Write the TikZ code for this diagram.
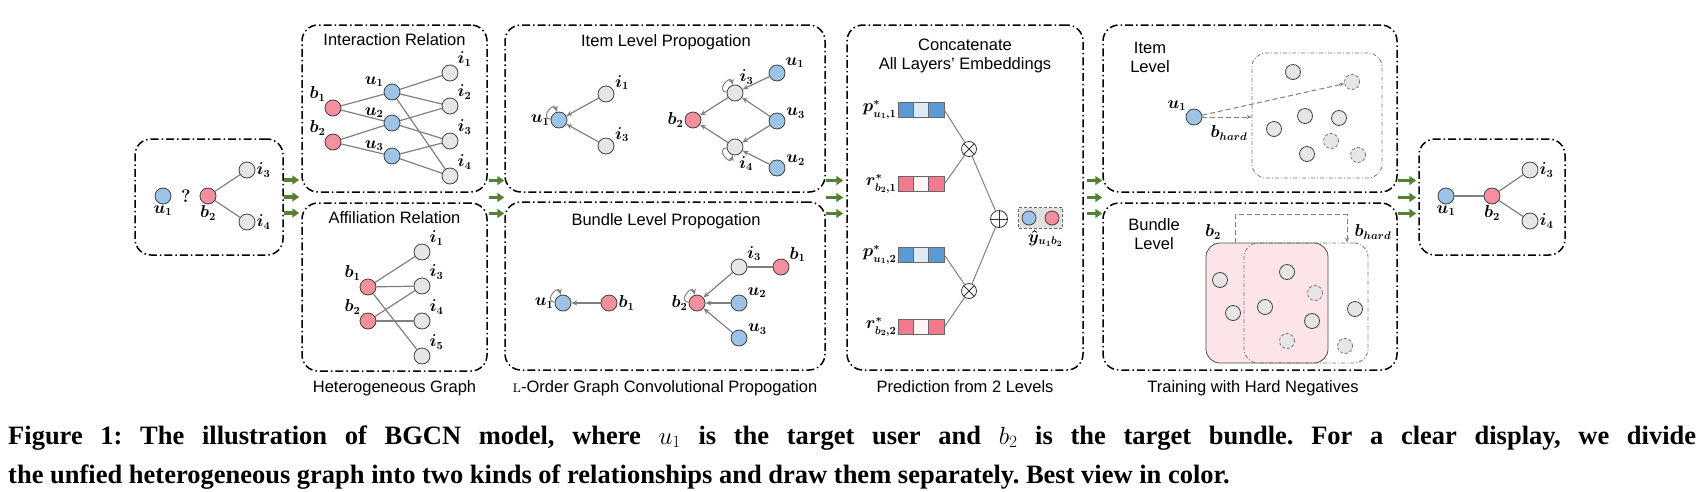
\documentclass[tikz,border=0pt]{standalone}
\usepackage{amsmath}
\usepackage{amssymb}
\usepackage{xcolor}
\usepackage{fontspec}
\setsansfont{Liberation Sans}
\newfontfamily\capfont{Liberation Serif}
\usepackage{tikz}
\usetikzlibrary{positioning,calc,fit,arrows.meta,backgrounds}
\definecolor{UserBlue}{RGB}{157,195,230}
\definecolor{BundlePink}{RGB}{244,143,158}
\definecolor{ItemGray}{RGB}{230,230,230}
\definecolor{EdgeGray}{RGB}{128,128,128}
\definecolor{FlowGreen}{RGB}{84,130,53}
\definecolor{VecBlue}{RGB}{91,155,213}
\definecolor{VecBlueL}{RGB}{222,235,247}
\definecolor{VecPink}{RGB}{242,122,140}
\definecolor{VecPinkL}{RGB}{253,245,246}
\definecolor{SetPink}{RGB}{252,228,232}
\frenchspacing

\begin{document}
\begin{tikzpicture}[
		x=1pt, y=-1pt,
		frame/.style={draw, line width=1.5pt, dash pattern=on 8pt off 3pt on 1.5pt off 3pt, rounded corners=16pt, inner sep=0pt},
		subframe/.style={draw=black!55, line width=0.8pt, dash pattern=on 4pt off 2pt on 1pt off 2pt, rounded corners=14pt, inner sep=0pt},
		title/.style={font=\sffamily\fontsize{16.5}{19}\selectfont, align=center, inner sep=0pt},
		lbl/.style={font=\boldmath\fontsize{16}{16}\selectfont, inner sep=1pt},
		capline/.style={font=\capfont\bfseries\fontsize{26.5}{31}\selectfont, inner sep=0pt},
		vertex/.style={circle, draw=black!75, line width=0.8pt, minimum size=16pt, inner sep=0pt},
		user/.style={vertex, fill=UserBlue},
		bundle/.style={vertex, fill=BundlePink},
		item/.style={vertex, fill=ItemGray},
		negitem/.style={item, draw=black!55, densely dashed},
		edge/.style={draw=EdgeGray, line width=1.2pt},
		prop/.style={edge, -{Stealth[length=6pt,width=5pt]}},
		selfloop/.style={prop, line width=1pt, looseness=3},
		flow/.style={draw=FlowGreen, line width=3.5pt, -{Triangle[length=7pt,width=9pt]}},
		hard/.style={draw=black!50, line width=1pt, dash pattern=on 5pt off 3pt, -{Stealth[length=5pt,width=4pt]}},
		cell/.style={draw=black!60, line width=0.8pt, minimum width=15.3pt, minimum height=15pt, inner sep=0pt},
		opnode/.style={circle, draw=black!80, line width=0.8pt, minimum size=15pt, inner sep=0pt},
		otimes/.style={opnode, path picture={\draw[black!80, line width=0.8pt] (path picture bounding box.north west) -- (path picture bounding box.south east) (path picture bounding box.south west) -- (path picture bounding box.north east);}},
		oplus/.style={opnode, minimum size=17pt, path picture={\draw[black!80, line width=0.8pt] (path picture bounding box.north) -- (path picture bounding box.south) (path picture bounding box.west) -- (path picture bounding box.east);}},
		]
		\useasboundingbox (0,0) rectangle (1700,491);
		
		% ===== frames =====
		\node[frame, minimum width=148pt, minimum height=116pt] (qbox) at (209,197) {};
		\node[frame, minimum width=185pt, minimum height=167pt] (ibox) at (394.5,108.5) {};
		\node[frame, minimum width=185pt, minimum height=168pt] (abox) at (394.5,287) {};
		\node[frame, minimum width=320pt, minimum height=167pt] (ipbox) at (665,108.5) {};
		\node[frame, minimum width=320pt, minimum height=168pt] (bpbox) at (665,286) {};
		\node[frame, minimum width=236pt, minimum height=345pt] (pred) at (965,197.5) {};
		\node[frame, minimum width=294pt, minimum height=167pt] (ilbox) at (1250,108.5) {};
		\node[frame, minimum width=294pt, minimum height=167pt] (blbox) at (1250,286.5) {};
		\node[frame, minimum width=146pt, minimum height=116pt] (rbox) at (1492,197) {};
		
		% ===== green arrows between stages =====
		\foreach \dy in {-17,0,16}{
			\draw[flow] ($(qbox.east)+(0,\dy)$) -- ($(qbox.east -| ibox.west)+(-2,\dy)$);
			\draw[flow] ($(ibox.east |- pred)+(1,\dy)$) -- ($(ipbox.west |- pred)+(0,\dy)$);
			\draw[flow] ($(ipbox.east |- pred)+(0,\dy)$) -- ($(pred.west |- pred)+(-3,\dy)$);
			\draw[flow] ($(pred.east |- pred)+(3,\dy)$) -- ($(ilbox.west |- pred)+(0,\dy)$);
			\draw[flow] ($(ilbox.east |- pred)+(0,\dy)$) -- ($(rbox.west |- pred)+(-2,\dy)$);
		}
		
		% ===== query: u1 ? b2 =====
		\node[user, label={[lbl]below:$u_1$}] (q-u1) at (163,196) {};
		\node[font=\bfseries\fontsize{18}{18}\selectfont, inner sep=0pt] (q-mark) at (186,196) {?};
		\node[bundle, label={[lbl]below:$b_2$}] (q-b2) at (208,196) {};
		\node[item, label={[lbl]right:$i_3$}] (q-i3) at (247,170) {};
		\node[item, label={[lbl]right:$i_4$}] (q-i4) at (247,222) {};
		\draw[edge] (q-b2) -- (q-i3);
		\draw[edge] (q-b2) -- (q-i4);
		
		% ===== interaction relation =====
		\node[title, anchor=base] (ir-t) at (394.5,45) {Interaction Relation};
		\node[bundle, label={[lbl]140:$b_1$}] (ir-b1) at (333,108) {};
		\node[bundle, label={[lbl]140:$b_2$}] (ir-b2) at (333,142) {};
		\foreach \n/\y in {1/92,2/123,3/156}{
			\node[user, label={[lbl]150:$u_\n$}] (ir-u\n) at (392,\y) {};
		}
		\foreach \n/\y in {1/73,2/106,3/141,4/176}{
			\node[item, label={[lbl]40:$i_\n$}] (ir-i\n) at (450,\y) {};
		}
		\foreach \a/\b in {b1/u1,b1/u2,b2/u2,b2/u3,u1/i1,u1/i2,u1/i4,u2/i2,u2/i3,u3/i3,u3/i4}{
			\draw[edge] (ir-\a) -- (ir-\b);
		}
		
		% ===== affiliation relation =====
		\node[title, anchor=base] (ar-t) at (394.5,223) {Affiliation Relation};
		\node[bundle, label={[lbl]140:$b_1$}] (ar-b1) at (368,287) {};
		\node[bundle, label={[lbl]140:$b_2$}] (ar-b2) at (368,321) {};
		\foreach \n/\y in {1/252,3/286,4/321,5/356}{
			\node[item, label={[lbl]40:$i_\n$}] (ar-i\n) at (422,\y) {};
		}
		\foreach \a/\b in {b1/i1,b1/i3,b1/i5,b2/i3,b2/i4}{
			\draw[edge] (ar-\a) -- (ar-\b);
		}
		
		% ===== item level propogation =====
		\node[title, anchor=base] (ip-t) at (666,46) {Item Level Propogation};
		\node[user, label={[lbl]left:$u_1$}] (ip-u1) at (559,120) {};
		\node[item, label={[lbl]20:$i_1$}] (ip-i1) at (606,94) {};
		\node[item, label={[lbl]20:$i_3$}] (ip-i3) at (606,146) {};
		\draw[prop] (ip-i1) -- (ip-u1);
		\draw[prop] (ip-i3) -- (ip-u1);
		\draw[selfloop] (ip-u1) to[out=175,in=105] (ip-u1);
		
		\node[bundle, label={[lbl]left:$b_2$}] (ip-b2) at (693,120) {};
		\node[item, label={[lbl]66:$i_3$}] (ip-j3) at (735,93) {};
		\node[item, label={[lbl]-70:$i_4$}] (ip-j4) at (735,147) {};
		\node[user, label={[lbl]28:$u_1$}] (ip-v1) at (777,73) {};
		\node[user, label={[lbl]12:$u_3$}] (ip-v3) at (777,121) {};
		\node[user, label={[lbl]12:$u_2$}] (ip-v2) at (777,168) {};
		\foreach \a/\b in {v1/j3,v3/j3,v3/j4,v2/j4,j3/b2,j4/b2}{
			\draw[prop] (ip-\a) -- (ip-\b);
		}
		\draw[selfloop] (ip-j3) to[out=175,in=105] (ip-j3);
		\draw[selfloop] (ip-j4) to[out=185,in=255] (ip-j4);
		
		% ===== bundle level propogation =====
		\node[title, anchor=base] (bp-t) at (666,225) {Bundle Level Propogation};
		\node[user, label={[lbl]left:$u_1$}] (bp-u1) at (563,303) {};
		\node[bundle, label={[lbl]right:$b_1$}] (bp-b1) at (609,303) {};
		\draw[prop] (bp-b1) -- (bp-u1);
		\draw[selfloop] (bp-u1) to[out=175,in=105] (bp-u1);
		
		\node[bundle, label={[lbl]left:$b_2$}] (bp-b2) at (697,303) {};
		\node[item, label={[lbl]35:$i_3$}] (bp-i3) at (739,267) {};
		\node[user, label={[lbl]28:$u_2$}] (bp-u2) at (739,303) {};
		\node[user, label={[lbl]18:$u_3$}] (bp-u3) at (739,338) {};
		\node[bundle, label={[lbl]28:$b_1$}] (bp-c1) at (781,267) {};
		\draw[edge] (bp-i3) -- (bp-c1);
		\foreach \a in {i3,u2,u3}{
			\draw[prop] (bp-\a) -- (bp-b2);
		}
		\draw[selfloop] (bp-b2) to[out=175,in=105] (bp-b2);
		
		% ===== prediction from 2 levels =====
		\node[title] (pr-t) at (965,56) {Concatenate\\All Layers' Embeddings};
		\foreach \n/\y/\dk/\lt/\lab in {p1/110/VecBlue/VecBlueL/p^*_{u_1,1}, r1/184/VecPink/VecPinkL/r^*_{b_2,1}, p2/255/VecBlue/VecBlueL/p^*_{u_1,2}, r2/327/VecPink/VecPinkL/r^*_{b_2,2}}{
			\node[cell, fill=\dk, label={[lbl]left:$\lab$}] (\n-1) at (905.7,\y) {};
			\node[cell, fill=\lt] (\n-2) at (921,\y) {};
			\node[cell, fill=\dk] (\n-3) at (936.3,\y) {};
		}
		\node[otimes] (ot1) at (969,149) {};
		\node[otimes] (ot2) at (969,291) {};
		\node[oplus] (op) at (999,219) {};
		\draw[edge, line width=1pt] (p1-3.east) -- (ot1);
		\draw[edge, line width=1pt] (r1-3.east) -- (ot1);
		\draw[edge, line width=1pt] (p2-3.east) -- (ot2);
		\draw[edge, line width=1pt] (r2-3.east) -- (ot2);
		\draw[edge, line width=1pt] (ot1) -- (op);
		\draw[edge, line width=1pt] (ot2) -- (op);
		
		\node[user, minimum size=14pt] (yb) at (1029,218) {};
		\node[bundle, minimum size=14pt] (yp) at (1052,218) {};
		\begin{scope}[on background layer]
			\node[draw=black!60, densely dashed, line width=0.8pt, fill=black!12, inner sep=3pt, fit=(yb)(yp), label={[lbl, xshift=5pt]below:$\hat{y}_{u_1b_2}$}] (yhat) {};
		\end{scope}
		
		% ===== item level =====
		\node[title] (il-t) at (1150,57) {Item\\Level};
		\node[subframe, minimum width=130pt, minimum height=125pt] (inbox) at (1317,115.5) {};
		\node[user, label={[lbl]143:$u_1$}] (il-u1) at (1194,117) {};
		\foreach \x/\y [count=\k] in {1293/72,1305/116,1339/118,1274/129,1307/154}{
			\node[item, minimum size=15pt] (il-p\k) at (\x,\y) {};
		}
		\foreach \x/\y [count=\k] in {1352/82,1331/141,1358/155}{
			\node[negitem, minimum size=15pt] (il-n\k) at (\x,\y) {};
		}
		\draw[hard] (il-u1) -- (il-u1 -| inbox.west);
		\draw[hard] (il-u1) -- (il-n1);
		\node[lbl] (il-hard) at (1229,133) {$b_{hard}$};
		
		% ===== bundle level =====
		\node[title] (bl-t) at (1154,234) {Bundle\\Level};
		\node[draw=black!70, line width=0.8pt, fill=SetPink, rounded corners=14pt, minimum width=122pt, minimum height=120pt] (b2set) at (1267,303) {};
		\node[subframe, minimum width=124pt, minimum height=120pt] (hardset) at (1306,303) {};
		\draw[hard] ([xshift=-32pt]b2set.north) -- ++(0,-28) -| ([xshift=41pt]hardset.north);
		\node[lbl] (bl-b2) at (1213,232) {$b_2$};
		\node[lbl] (bl-hard) at (1373,232) {$b_{hard}$};
		\foreach \x/\y [count=\k] in {1220/280,1233/313,1287/272,1265/307,1312/321,1355/309}{
			\node[item, minimum size=15pt] (bl-p\k) at (\x,\y) {};
		}
		\foreach \x/\y [count=\k] in {1315/293,1287/341,1345/346}{
			\node[negitem, minimum size=15pt] (bl-n\k) at (\x,\y) {};
		}
		
		% ===== result: u1 -- b2 =====
		\node[user, label={[lbl]below:$u_1$}] (r-u1) at (1446,196) {};
		\node[bundle, label={[lbl]below:$b_2$}] (r-b2) at (1492,196) {};
		\node[item, label={[lbl]right:$i_3$}] (r-i3) at (1530,170) {};
		\node[item, label={[lbl]right:$i_4$}] (r-i4) at (1530,221) {};
		\draw[edge] (r-u1) -- (r-b2);
		\draw[edge] (r-b2) -- (r-i3);
		\draw[edge] (r-b2) -- (r-i4);
		
		% ===== stage names =====
		\node[title, anchor=base] (s1) at (394.5,392) {Heterogeneous Graph};
		\node[title, anchor=base] (s2) at (665,392) {{\rmfamily\textsc{l}}-Order Graph Convolutional Propogation};
		\node[title, anchor=base] (s3) at (965,392) {Prediction from 2 Levels};
		\node[title, anchor=base] (s4) at (1253,392) {Training with Hard Negatives};
		
		% ===== caption =====
		\node[capline, anchor=base west] (cap1) at (8,444) {\makebox[1688pt][s]{Figure 1: The illustration of BGCN model, where $u_1$ is the target user and $b_2$ is the target bundle. For a clear display, we divide}};
		\node[capline, anchor=base west] (cap2) at (8,483) {the unfied heterogeneous graph into two kinds of relationships and draw them separately. Best view in color.};
		
	\end{tikzpicture}
\end{document}
